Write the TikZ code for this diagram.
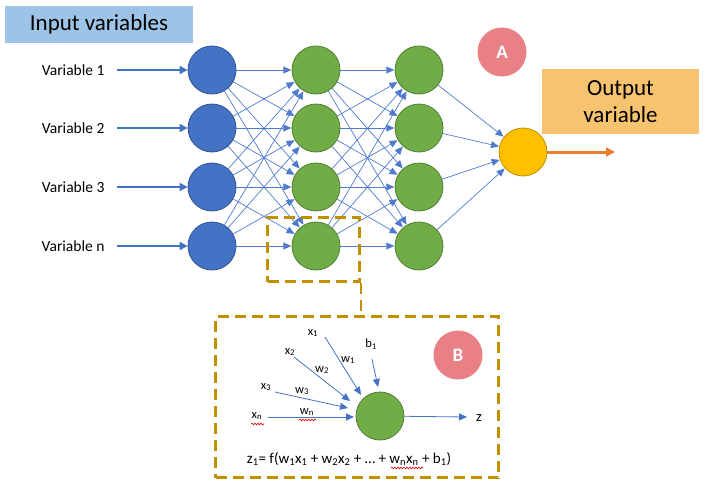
\documentclass[tikz,border=0pt]{standalone}
\usepackage{fontspec}
\setmainfont{Carlito}
\usetikzlibrary{arrows.meta,decorations.pathmorphing}
\definecolor{cblue}{HTML}{4472C4}
\definecolor{cblued}{HTML}{2F528F}
\definecolor{cgreen}{HTML}{70AD47}
\definecolor{cgreend}{HTML}{507E32}
\definecolor{cyel}{HTML}{FFC000}
\definecolor{cyeld}{HTML}{BF9000}
\definecolor{cpink}{RGB}{232,128,134}
\definecolor{cgold}{HTML}{BF9000}
\definecolor{corange}{HTML}{ED7D31}
\definecolor{clblue}{HTML}{9DC3E6}
\definecolor{cobox}{RGB}{247,195,110}
\definecolor{cline}{RGB}{80,122,206}
\tikzset{
  neuron/.style={circle,minimum size=48pt,inner sep=0pt,line width=0.8pt},
  inneuron/.style={neuron,fill=cblue,draw=cblued},
  hidneuron/.style={neuron,fill=cgreen,draw=cgreend},
  outneuron/.style={neuron,fill=cyel,draw=cyeld},
  conn/.style={draw=cline,line width=0.7pt,-{Triangle[length=8pt,width=7pt]},shorten >=0.3pt},
  inarrow/.style={draw=cblue,line width=2pt,-{Triangle[length=8pt,width=8pt]}},
  badge/.style={circle,minimum size=49pt,inner sep=0pt,fill=cpink,text=white,font=\bfseries\fontsize{19}{21}\selectfont},
  dbox/.style={draw=cgold,line width=2.6pt,dash pattern=on 11pt off 6pt,inner sep=0pt},
  dline/.style={draw=cgold,line width=2.6pt,dash pattern=on 11pt off 6pt},
  varlabel/.style={anchor=east,font=\fontsize{15.5}{17}\selectfont},
  small/.style={font=\fontsize{12.5}{14}\selectfont,inner sep=0pt},
  warrow/.style={draw=cblue,line width=0.8pt,-{Triangle[length=8pt,width=7pt]}},
  squig/.style={draw=red!85!black,line width=0.6pt,decorate,decoration={snake,amplitude=0.9pt,segment length=3pt}}
}
\begin{document}
\begin{tikzpicture}[x=1pt,y=-1pt]
\useasboundingbox (0,0) rectangle (708,487);
% title boxes
\node[fill=clblue,minimum width=188pt,minimum height=37pt,inner sep=0pt,font=\fontsize{23}{26}\selectfont] (inbox) at (99,24.5) {Input variables};
\node[fill=cobox,minimum width=157pt,minimum height=65pt,inner sep=0pt,align=center,font=\fontsize{23}{27}\selectfont] (outbox) at (620.5,101.5) {Output\\variable};
% neurons
\foreach \r/\y in {1/70,2/128,3/187,4/246}{
  \node[inneuron] (i\r) at (212,\y) {};
  \node[hidneuron] (h\r) at (316,\y) {};
  \node[hidneuron] (g\r) at (419,\y) {};
}
\node[outneuron] (o) at (523,152) {};
\node[badge] (A) at (502,52) {A};
% connections
\foreach \a in {1,...,4}{
  \foreach \b in {1,...,4}{
    \draw[conn] (i\a) -- (h\b);
    \draw[conn] (h\a) -- (g\b);
  }
  \draw[conn] (g\a) -- (o);
}
% variable labels
\node[varlabel] (v1) at (108,70) {Variable 1};
\node[varlabel] (v2) at (108,128) {Variable 2};
\node[varlabel] (v3) at (108,187) {Variable 3};
\node[varlabel] (v4) at (108,246) {Variable n};
\foreach \r in {1,...,4}{
  \draw[inarrow] ([xshift=9pt]v\r.east) -- (i\r);
}
% output arrow
\coordinate (oend) at (615,152);
\draw[draw=corange,line width=3pt,-{Triangle[length=9pt,width=9pt]}] (o) -- (oend);
% dashed boxes
\node[dbox,minimum width=92pt,minimum height=64pt] (sel) at (313.5,249.5) {};
\node[dbox,minimum width=283pt,minimum height=161pt] (big) at (357,397) {};
\draw[dline] (sel.south east) -- (sel.south east |- big.north);
\node[badge] (B) at (458,355) {B};
% detailed neuron
\node[hidneuron] (n) at (380,416) {};
\coordinate (zend) at (467,417);
\draw[warrow] (n) -- (zend);
\node[small,font=\fontsize{14.5}{16}\selectfont] (zl) at (479,418) {z};
% inputs
\node[small] (x1) at (313,333) {x\textsubscript{1}};
\node[small] (x2) at (290,352) {x\textsubscript{2}};
\node[small] (x3) at (266,387) {x\textsubscript{3}};
\node[small] (xn) at (257,416) {x\textsubscript{n}};
\node[small] (b1) at (371,344) {b\textsubscript{1}};
\node[small] (w1) at (348,360) {w\textsubscript{1}};
\node[small] (w2) at (322,370) {w\textsubscript{2}};
\node[small] (w3) at (302,391) {w\textsubscript{3}};
\node[small] (wn) at (307,412) {w\textsubscript{n}};
\coordinate (sx1) at (325,337); \coordinate (ex1) at (361,395);
\coordinate (sx2) at (294,357); \coordinate (ex2) at (350,401);
\coordinate (sx3) at (275,392); \coordinate (ex3) at (348,408);
\coordinate (sxn) at (268,417); \coordinate (exn) at (354,417);
\coordinate (sb1) at (372,359); \coordinate (eb1) at (378,387);
\foreach \k in {x1,x2,x3,xn,b1}{
  \draw[warrow] (s\k) -- (e\k);
}
% formula
\node[font=\fontsize{15}{17}\selectfont,inner sep=0pt] (eq) at (349,459) {z\textsubscript{1}= f(w\textsubscript{1}x\textsubscript{1} + w\textsubscript{2}x\textsubscript{2} + … + w\textsubscript{n}x\textsubscript{n} + b\textsubscript{1})};
% spell-check squiggles
\coordinate (q1a) at (251,424); \coordinate (q1b) at (264,424);
\coordinate (q2a) at (299,420); \coordinate (q2b) at (316,420);
\coordinate (q3a) at (391,468); \coordinate (q3b) at (423,468);
\draw[squig] (q1a) -- (q1b);
\draw[squig] (q2a) -- (q2b);
\draw[squig] (q3a) -- (q3b);
\end{tikzpicture}
\end{document}
